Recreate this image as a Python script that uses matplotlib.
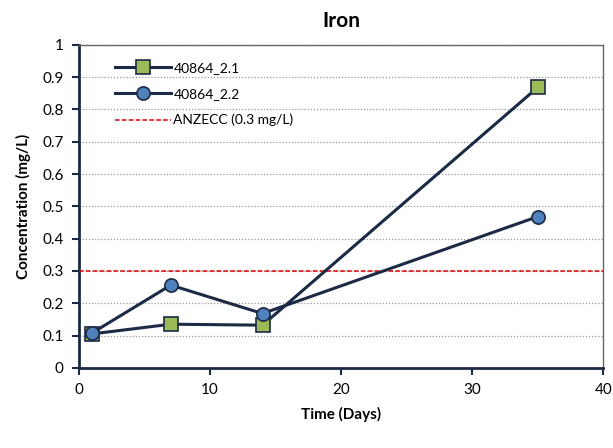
import numpy as np
import matplotlib
matplotlib.use('Agg')
from matplotlib import pyplot as plt

plt.rcParams['font.family'] = ['Lato', 'DejaVu Sans']

# data
days = [1, 7, 14, 35]
s21 = [0.105, 0.135, 0.132, 0.868]
s22 = [0.108, 0.256, 0.168, 0.468]
anzecc = 0.3

navy = '#1b2a45'

fig = plt.figure(figsize=(6.13, 4.48), dpi=100)
ax = fig.add_axes([0.129, 0.179, 0.855, 0.721])

ax.plot(days, s21, color=navy, lw=2.2, marker='s', ms=9.5,
        mfc='#9bbb59', mec=navy, mew=1.2, label='40864_2.1', zorder=4)
ax.plot(days, s22, color=navy, lw=2.2, marker='o', ms=9.5,
        mfc='#4f81bd', mec=navy, mew=1.2, label='40864_2.2', zorder=5)
ax.axhline(anzecc, color='#e00000', lw=1.1, ls=(0, (3, 1.5)),
           label='ANZECC (0.3 mg/L)', zorder=3)

ax.set_xlim(0, 40)
ax.set_ylim(0, 1)
ax.set_xticks([0, 10, 20, 30, 40])
ax.set_yticks(np.arange(0, 1.01, 0.1))
ax.set_yticklabels(['0', '0.1', '0.2', '0.3', '0.4', '0.5', '0.6', '0.7',
                    '0.8', '0.9', '1'])
ax.yaxis.grid(True, color='#999999', ls=(0, (1, 1.5)), lw=0.9)
ax.set_axisbelow(True)

for s in ['left', 'bottom']:
    ax.spines[s].set_color(navy)
    ax.spines[s].set_linewidth(2)
for s in ['top', 'right']:
    ax.spines[s].set_color('#666666')
    ax.spines[s].set_linewidth(1)
ax.tick_params(direction='out', length=5, width=1.5, color=navy,
               labelsize=11, pad=6)

ax.set_title('Iron', fontsize=15, fontweight='bold', pad=13)
ax.set_xlabel('Time (Days)', fontsize=11, fontweight='bold', labelpad=7)
ax.set_ylabel('Concentration (mg/L)', fontsize=11, fontweight='bold', labelpad=8)

ax.legend(loc='upper left', bbox_to_anchor=(0.045, 0.985), frameon=False,
          fontsize=10, handlelength=4.0, labelspacing=1.0, handletextpad=0.2)

fig.savefig('out.png', dpi=100)
